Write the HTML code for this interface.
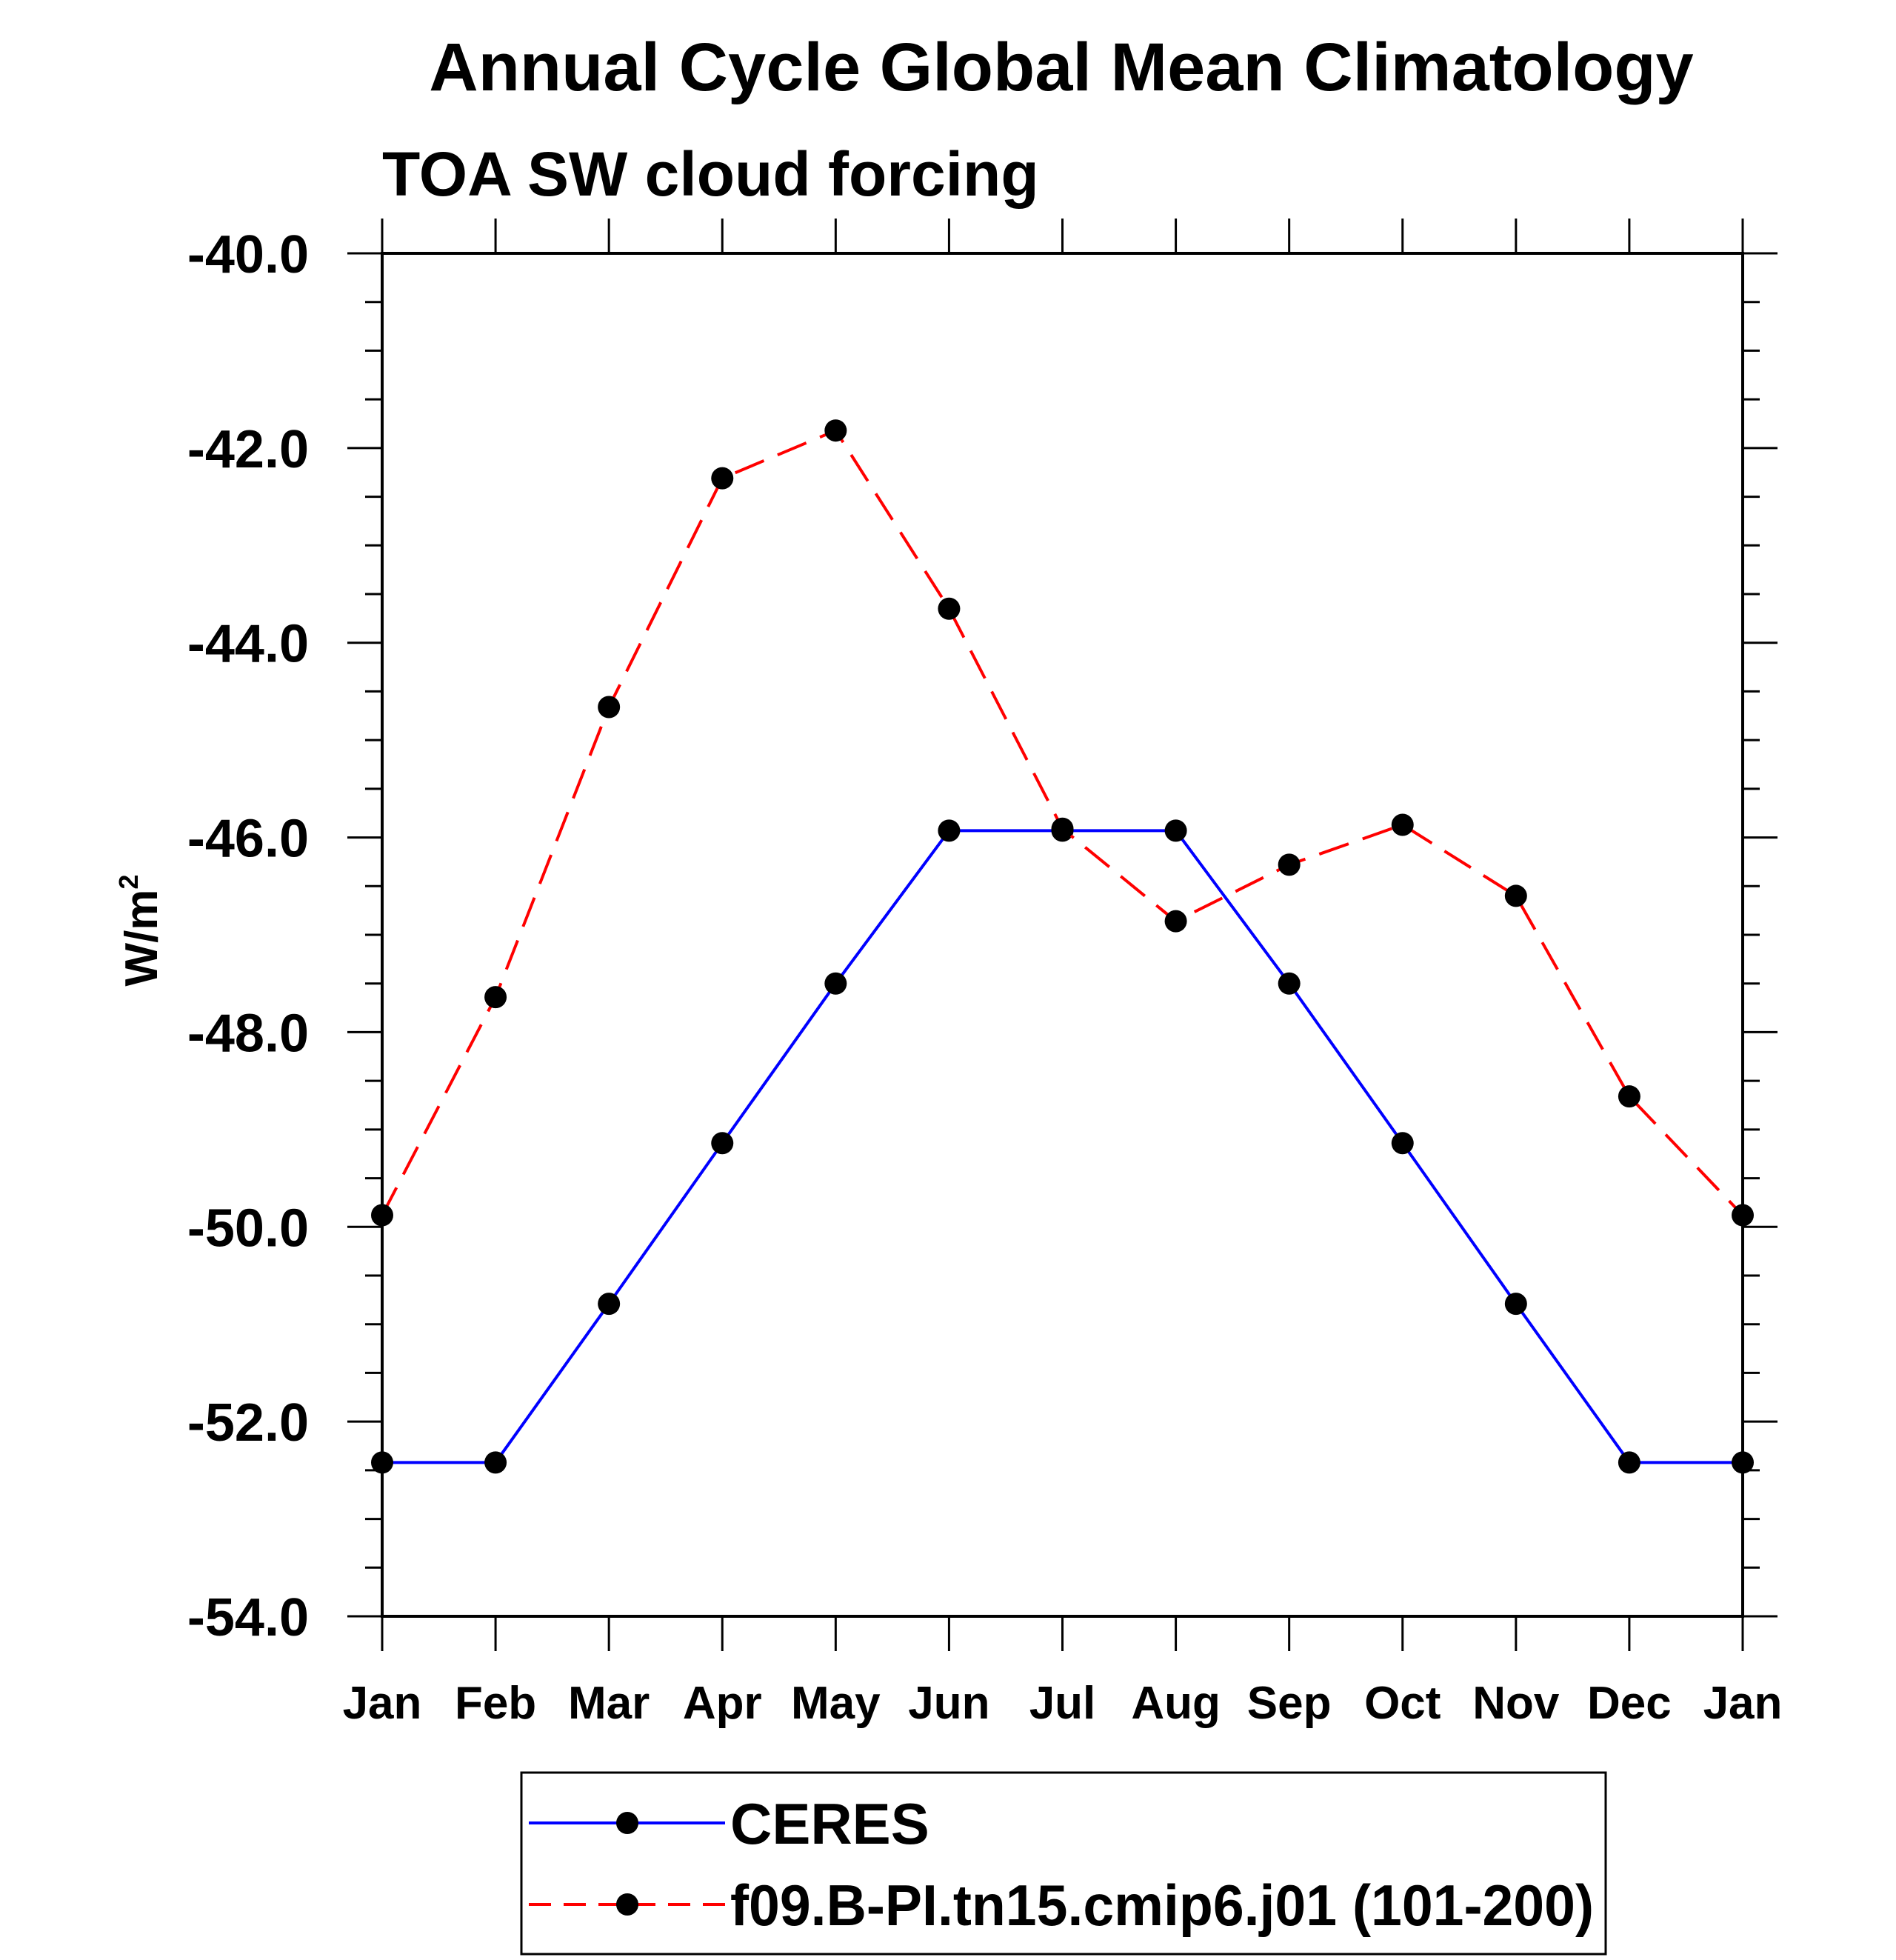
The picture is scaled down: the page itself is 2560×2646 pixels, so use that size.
<!DOCTYPE html>
<html><head><meta charset="utf-8"><style>
html,body{margin:0;padding:0;background:#fff}
svg{display:block}
text{font-family:"Liberation Sans",Arial,sans-serif;font-weight:bold;fill:#000}
</style></head><body>
<svg id="chart" xmlns="http://www.w3.org/2000/svg" width="2560" height="2646" viewBox="0 0 2560 2646">
<rect width="2560" height="2646" fill="#fff"/>
<text x="1433" y="122" font-size="92" text-anchor="middle">Annual Cycle Global Mean Climatology</text>
<text x="516" y="264" font-size="84">TOA SW cloud forcing</text>
<text transform="translate(212,1256) rotate(-90)" font-size="62" text-anchor="middle">W/m<tspan font-size="36" dy="-26">2</tspan></text>
<g id="axes"></g>
<g id="series"></g>
<g>
<rect x="704" y="2393" width="1464" height="245" fill="none" stroke="#000" stroke-width="3"/>
<line x1="714" y1="2461" x2="979" y2="2461" stroke="#0000ff" stroke-width="4"/>
<circle cx="847" cy="2461" r="15" fill="#000"/>
<text x="986" y="2489" font-size="78">CERES</text>
<line x1="714" y1="2571" x2="979" y2="2571" stroke="#ff0000" stroke-width="4" stroke-dasharray="30,17"/>
<circle cx="847" cy="2571" r="15" fill="#000"/>
<text x="986" y="2599" font-size="78" textLength="1166" lengthAdjust="spacingAndGlyphs">f09.B-PI.tn15.cmip6.j01 (101-200)</text>
</g>
</svg>
<script>
const months = ["Jan","Feb","Mar","Apr","May","Jun","Jul","Aug","Sep","Oct","Nov","Dec","Jan"];
const ceres = [-52.42,-52.42,-50.79,-49.14,-47.50,-45.93,-45.93,-45.93,-47.50,-49.14,-50.79,-52.42,-52.42];
const model = [-49.88,-47.64,-44.66,-42.31,-41.82,-43.65,-45.91,-46.86,-46.28,-45.87,-46.60,-48.66,-49.88];
const yTicks = [-40,-42,-44,-46,-48,-50,-52,-54];
const yTickLabels = ["-40.0","-42.0","-44.0","-46.0","-48.0","-50.0","-52.0","-54.0"];

const L=516,R=2353,T=342,B=2182,yMin=-54,yMax=-40;
const NS="http://www.w3.org/2000/svg";
function xs(i){return L+(R-L)*i/(months.length-1);}
function ys(v){return B-(v-yMin)/(yMax-yMin)*(B-T);}
function mk(tag,attrs,parent){const e=document.createElementNS(NS,tag);for(const k in attrs)e.setAttribute(k,attrs[k]);parent.appendChild(e);return e;}
const ax=document.getElementById('axes');
const frame=mk('rect',{x:L,y:T,width:R-L,height:B-T,fill:'none',stroke:'#000','stroke-width':4},ax);


for(let v=yMin; v<=yMax+1e-9; v+=0.5){
  const y=ys(v); const major=Math.abs(v/2-Math.round(v/2))<1e-9; const len=major?47:23;
  mk('line',{x1:L-len,y1:y,x2:L,y2:y,stroke:'#000','stroke-width':3},ax);
  mk('line',{x1:R,y1:y,x2:R+len,y2:y,stroke:'#000','stroke-width':3},ax);
}
yTicks.forEach((v,i)=>{
  const t=mk('text',{x:417,y:ys(v)+26,'font-size':72,'text-anchor':'end'},ax);
  t.textContent=yTickLabels[i];
  
  
});
months.forEach((m,i)=>{
  const x=xs(i);
  mk('line',{x1:x,y1:B,x2:x,y2:B+47,stroke:'#000','stroke-width':3},ax);
  mk('line',{x1:x,y1:T-47,x2:x,y2:T,stroke:'#000','stroke-width':3},ax);
  const t=mk('text',{x:x,y:2320,'font-size':62,'text-anchor':'middle'},ax);
  t.textContent=m;
  
  
});
const sg=document.getElementById('series');
function drawSeries(vals,color,dash,name){
  const g=mk('g',{},sg);
  
  
  const pts=vals.map((v,i)=>xs(i)+','+ys(v)).join(' ');
  const a={points:pts,fill:'none',stroke:color,'stroke-width':4};
  if(dash)a['stroke-dasharray']=dash;
  mk('polyline',a,g);
  vals.forEach((v,i)=>{
    const c=mk('circle',{cx:xs(i),cy:ys(v),r:15,fill:'#000'},g);
    
    
  });
}
drawSeries(ceres,'#0000ff',null,'ceres-series');
drawSeries(model,'#ff0000','42,20','model-series');
</script>
</body></html>
